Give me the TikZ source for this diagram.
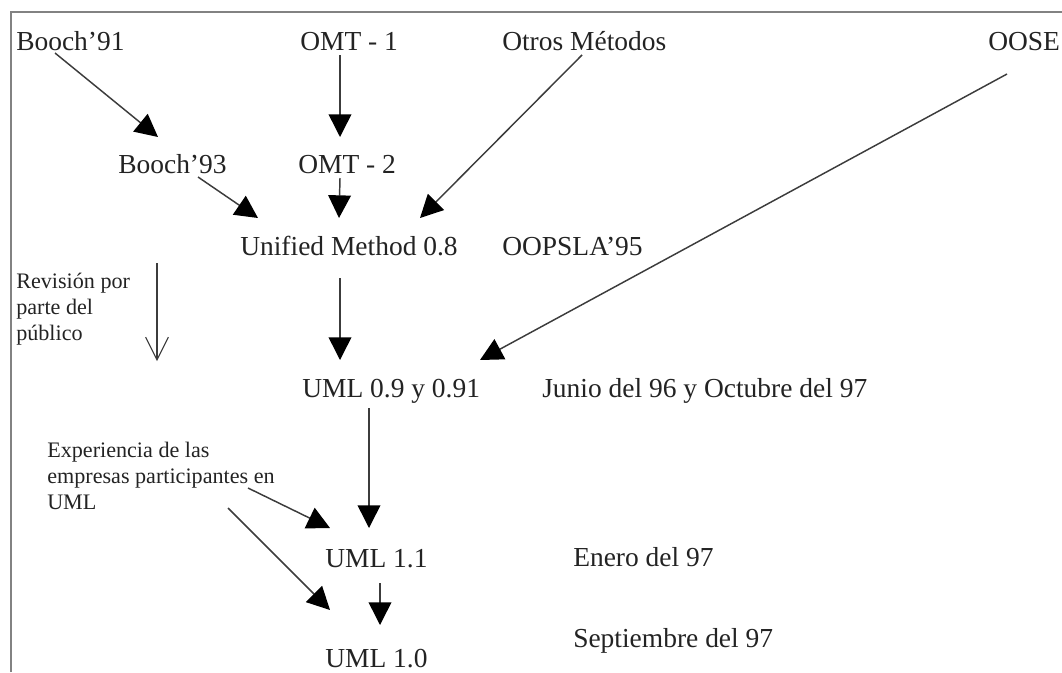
\documentclass[tikz,border=0pt]{standalone}
\usepackage{fontspec}
\setmainfont{Liberation Serif}
\usetikzlibrary{arrows.meta}
\definecolor{ink}{RGB}{35,35,35}
\definecolor{wire}{RGB}{60,60,60}
\definecolor{frame}{RGB}{130,130,130}
\tikzset{
  big/.style={anchor=base west, inner sep=0pt, text=ink, font=\fontsize{20.6pt}{24pt}\selectfont},
  note/.style={anchor=base west, inner sep=0pt, text=ink, align=left,
    font=\fontsize{16.6pt}{19.2pt}\selectfont},
  flow/.style={draw=wire, line width=1.1pt, -{Triangle[length=17pt,width=17pt,color=black]}},
  review/.style={draw=wire, line width=0.8pt, -{Straight Barb[length=17pt,width=17pt,line width=0.8pt]}}
}
\begin{document}
\begin{tikzpicture}[x=0.75pt,y=-0.75pt]
\useasboundingbox (0,0) rectangle (1062,672);
% outer frame (only the top and left edges fall inside the page)
\draw[frame, line width=1.6pt] (11,672) -- (11,12) -- (1062,12);

% methods and versions
\node[big] (b91)   at (16,50)  {Booch’91};
\node[big] (omt1)  at (300,50) {OMT - 1};
\node[big] (otros) at (502,50) {Otros Métodos};
\node[big] (oose)  at (988,50) {OOSE};
\node[big] (b93)   at (118,173) {Booch’93};
\node[big] (omt2)  at (298,173) {OMT - 2};
\node[big] (um)    at (240,255) {Unified Method 0.8};
\node[big] (oops)  at (502,255) {OOPSLA’95};
\node[big] (uml09) at (302,397) {UML 0.9 y 0.91};
\node[big] (jun)   at (542,397) {Junio del 96 y Octubre del 97};
\node[big] (uml11) at (325,567) {UML 1.1};
\node[big] (ene)   at (573,566) {Enero del 97};
\node[big] (sep)   at (573,647) {Septiembre del 97};
\node[big] (uml10) at (325,667) {UML 1.0};

% side notes (base anchor sits on the last line)
\node[note] (rev) at (16,340) {Revisión por\\parte del\\público};
\node[note] (exp) at (47,509) {Experiencia de las\\empresas participantes en\\UML};

% connector end points
\coordinate (b91o)   at (55,53);
\coordinate (b93i)   at (158,137);
\coordinate (omt1o)  at (340,55);
\coordinate (omt2i)  at (340,137);
\coordinate (otroso) at (582,55);
\coordinate (b93o)   at (198,177);
\coordinate (omt2o)  at (340,178);
\coordinate (umiA)   at (258,218);
\coordinate (umiB)   at (339,218);
\coordinate (umiC)   at (420,218);
\coordinate (umo)    at (340,278);
\coordinate (ooseo)  at (1007,74);
\coordinate (u09iA)  at (340,360);
\coordinate (u09iB)  at (480,360);
\coordinate (u09o)   at (369,408);
\coordinate (u11iA)  at (330,528);
\coordinate (u11iB)  at (369,528);
\coordinate (expoA)  at (248,488);
\coordinate (expoB)  at (228,508);
\coordinate (u11o)   at (380,583);
\coordinate (u10iA)  at (330,610);
\coordinate (u10iB)  at (380,625);
\coordinate (revo)   at (157,263);
\coordinate (revi)   at (157,361);

% influences
\draw[flow] (b91o) -- (b93i);
\draw[flow] (omt1o) -- (omt2i);
\draw[flow] (b93o) -- (umiA);
\draw[flow] (omt2o) -- (umiB);
\draw[flow] (otroso) -- (umiC);
\draw[flow] (umo) -- (u09iA);
\draw[flow] (ooseo) -- (u09iB);
\draw[flow] (u09o) -- (u11iB);
\draw[flow] (expoA) -- (u11iA);
\draw[flow] (expoB) -- (u10iA);
\draw[flow] (u11o) -- (u10iB);

% public review
\draw[review] (revo) -- (revi);
\end{tikzpicture}
\end{document}
